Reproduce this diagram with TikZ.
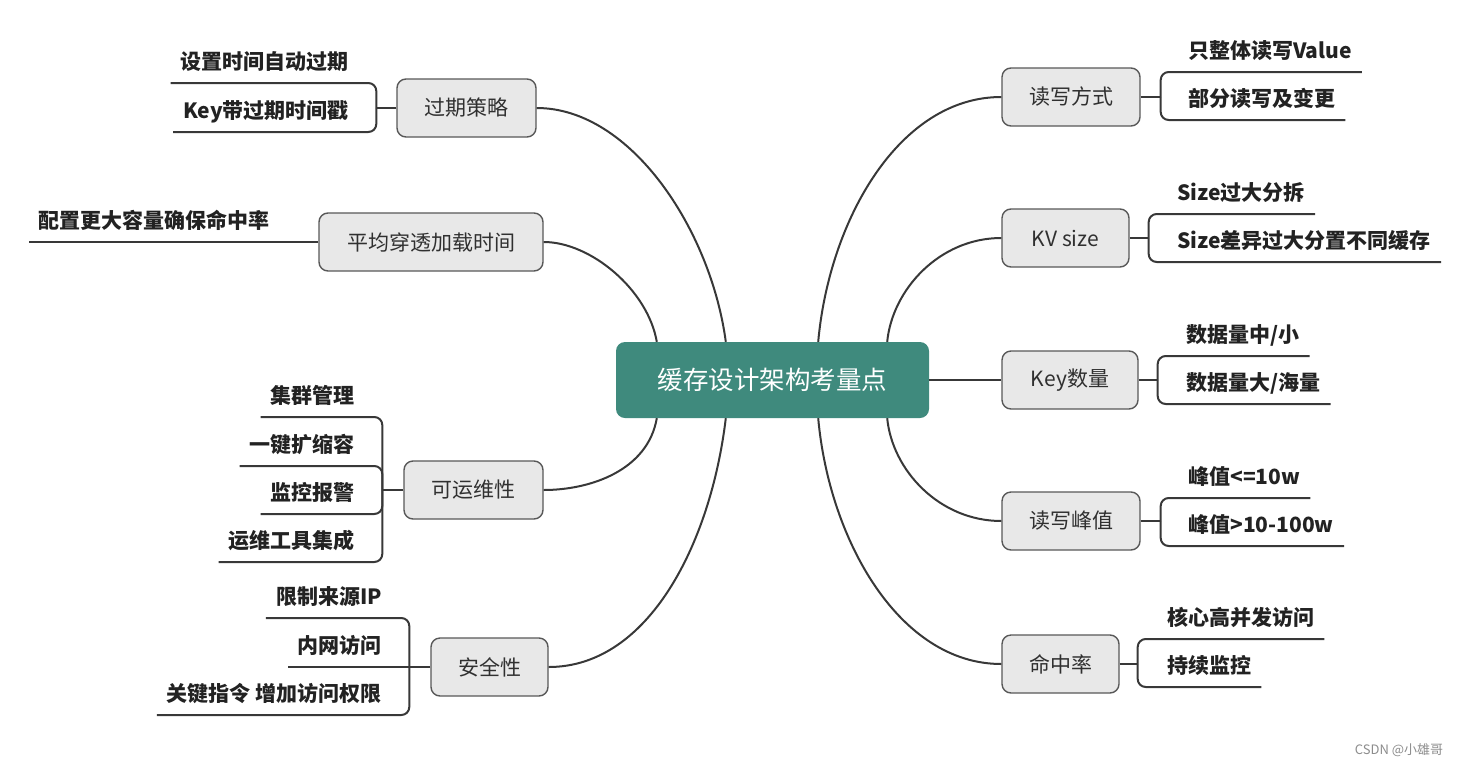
\documentclass[tikz,border=0pt]{standalone}
\usepackage{fontspec}
\newfontfamily\cjk{Noto Sans CJK SC}
\usetikzlibrary{calc}
\definecolor{teal0}{HTML}{3F8A7D}
\definecolor{nodefill}{HTML}{E8E8E8}
\definecolor{nodeline}{HTML}{585858}
\definecolor{linkc}{HTML}{383838}
\definecolor{txt}{HTML}{222222}
\definecolor{toptxt}{HTML}{303030}
\tikzset{
  topic/.style={draw=nodeline, line width=1.4pt, fill=nodefill, rounded corners=9pt,
    minimum height=58pt, inner sep=0pt, text=toptxt,
    font=\cjk\fontsize{21}{25}\selectfont},
  root/.style={fill=teal0, rounded corners=9pt, minimum width=313pt, minimum height=76pt,
    inner sep=0pt, text=white, font=\cjk\fontsize{25.5}{30}\selectfont},
  leaf/.style={inner xsep=10pt, inner ysep=9pt, text height=17pt, text depth=4pt,
    text=txt, font=\cjk\bfseries\fontsize{21}{25}\selectfont},
  leafL/.style={leaf, anchor=south east},
  leafR/.style={leaf, anchor=south west},
  link/.style={draw=linkc, line width=2pt},
  brk/.style={link, rounded corners=8pt},
}
\begin{document}
\begin{tikzpicture}[x=1pt,y=-1pt]
\useasboundingbox (0,0) rectangle (1464,766);

% root
\node[root] (c) at (772.5,380) {缓存设计架构考量点};

% level-1 topics
\node[topic, minimum width=139pt] (p1) at (466.5,108) {过期策略};
\node[topic, minimum width=224pt] (p2) at (431,242) {平均穿透加载时间};
\node[topic, minimum width=139pt] (p3) at (473.5,490) {可运维性};
\node[topic, minimum width=117pt] (p4) at (489.5,667) {安全性};
\node[topic, minimum width=138pt] (p5) at (1071,97) {读写方式};
\node[topic, minimum width=127pt] (p6) at (1065.5,238) {KV size};
\node[topic, minimum width=136pt] (p7) at (1070,380) {Key数量};
\node[topic, minimum width=138pt] (p8) at (1071,521) {读写峰值};
\node[topic, minimum width=117pt] (p9) at (1060.5,664) {命中率};

% root connectors
\draw[link] ([xshift=110pt]c.north west) .. controls +(-15,-112) and +(94,0) .. (p1.east);
\draw[link] ([xshift=41pt]c.north west) .. controls +(-9,-52) and +(47,0) .. (p2.east);
\draw[link] ([xshift=41pt]c.south west) .. controls +(-9,52) and +(47,0) .. (p3.east);
\draw[link] ([xshift=110pt]c.south west) .. controls +(-15,125) and +(100,0) .. (p4.east);
\draw[link] ([xshift=-111pt]c.north east) .. controls +(11,-122) and +(-102,0) .. (p5.west);
\draw[link] ([xshift=-42pt]c.north east) .. controls +(5,-52) and +(-62,0) .. (p6.west);
\draw[link] (c.east) -- (p7.west);
\draw[link] ([xshift=-42pt]c.south east) .. controls +(5,52) and +(-62,0) .. (p8.west);
\draw[link] ([xshift=-111pt]c.south east) .. controls +(11,122) and +(-102,0) .. (p9.west);

% ---- left leaves
\node[leafL] (l11) at (359,83) {设置时间自动过期};
\node[leafL] (l12) at (359,132) {Key带过期时间戳};
\draw[link] (p1.west) -- ++(-20,0) coordinate (b1);
\draw[brk] (b1) |- (l11.south west);
\draw[brk] (b1) |- (l12.south west);

\node[leafL] (l21) at (280,242) {配置更大容量确保命中率};
\draw[link] (p2.west) -- (l21.south west);

\node[leafL] (l31) at (365,417) {集群管理};
\node[leafL] (l32) at (365,466) {一键扩缩容};
\node[leafL] (l33) at (365,514) {监控报警};
\node[leafL] (l34) at (365,562) {运维工具集成};
\draw[link] (p3.west) -- ++(-21,0) coordinate (b3);
\draw[brk] (b3) |- (l31.south west);
\draw[brk] (b3) |- (l32.south west);
\draw[brk] (b3) |- (l33.south west);
\draw[brk] (b3) |- (l34.south west);

\node[leafL] (l41) at (392,618) {限制来源IP};
\node[leafL] (l42) at (392,667) {内网访问};
\node[leafL] (l43) at (392,715) {关键指令 增加访问权限};
\draw[link] (p4.west) -- ++(-21,0) coordinate (b4);
\draw[brk] (b4) |- (l41.south west);
\draw[link] (b4) -- (l42.south west);
\draw[brk] (b4) |- (l43.south west);

% ---- right leaves
\node[leafR] (r51) at (1178,72) {只整体读写Value};
\node[leafR] (r52) at (1178,120) {部分读写及变更};
\draw[link] (p5.east) -- ++(20,0) coordinate (b5);
\draw[brk] (b5) |- (r51.south east);
\draw[brk] (b5) |- (r52.south east);

\node[leafR] (r61) at (1167,214) {Size过大分拆};
\node[leafR] (r62) at (1167,262) {Size差异过大分置不同缓存};
\draw[link] (p6.east) -- ++(19,0) coordinate (b6);
\draw[brk] (b6) |- (r61.south east);
\draw[brk] (b6) |- (r62.south east);

\node[leafR] (r71) at (1176,356) {数据量中/小};
\node[leafR] (r72) at (1176,404) {数据量大/海量};
\draw[link] (p7.east) -- ++(19,0) coordinate (b7);
\draw[brk] (b7) |- (r71.south east);
\draw[brk] (b7) |- (r72.south east);

\node[leafR] (r81) at (1178,498) {峰值<=10w};
\node[leafR] (r82) at (1178,546) {峰值>10-100w};
\draw[link] (p8.east) -- ++(20,0) coordinate (b8);
\draw[brk] (b8) |- (r81.south east);
\draw[brk] (b8) |- (r82.south east);

\node[leafR] (r91) at (1157,639) {核心高并发访问};
\node[leafR] (r92) at (1157,687) {持续监控};
\draw[link] (p9.east) -- ++(18,0) coordinate (b9);
\draw[brk] (b9) |- (r91.south east);
\draw[brk] (b9) |- (r92.south east);

% watermark
\node[text=black!45, font=\cjk\fontsize{13}{15}\selectfont] (wm) at (1399,750) {CSDN @小雄哥};
\end{tikzpicture}
\end{document}
